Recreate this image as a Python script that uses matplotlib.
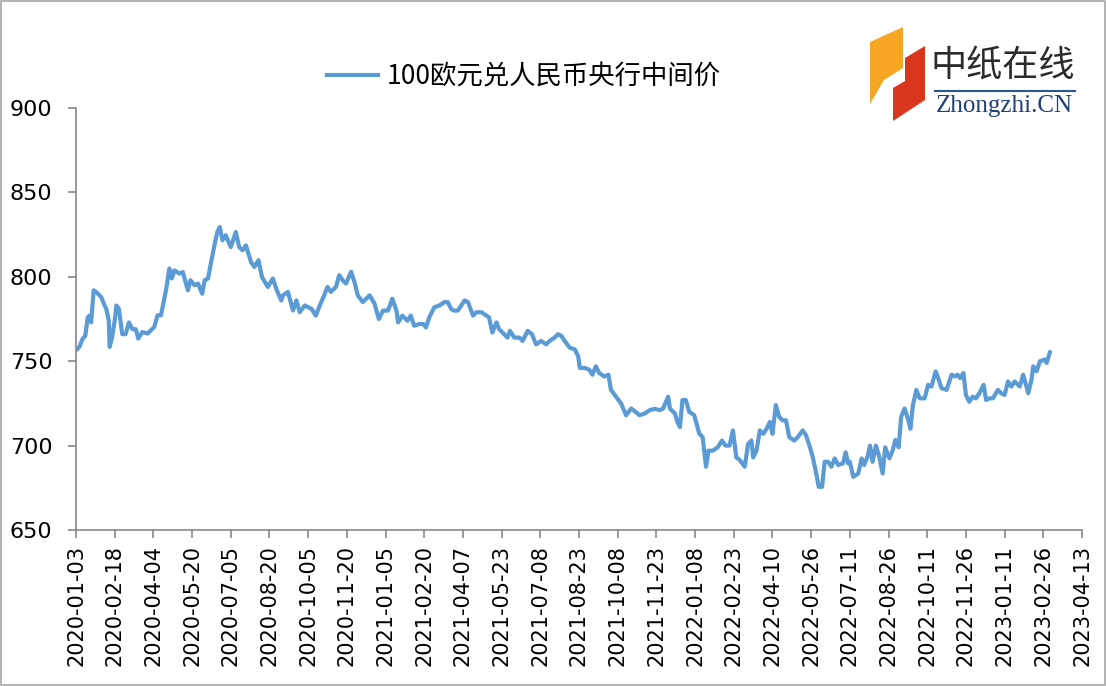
import numpy as np
import pandas as pd
import matplotlib.pyplot as plt
from matplotlib.patches import Polygon, Rectangle
from matplotlib.lines import Line2D

plt.rcParams["font.family"] = ["Noto Sans CJK SC", "DejaVu Sans"]

# --------------------------------------------------------------------------- #
# Data
# --------------------------------------------------------------------------- #
START = pd.Timestamp("2020-01-03")
END = pd.Timestamp("2023-04-13")
SERIES_NAME = "100欧元兑人民币央行中间价"

# days since 2020-01-03
day_offsets = [
    0, 4, 8, 11, 14, 16, 18, 21, 24, 30, 34, 36, 39, 40, 43, 46, 48, 51, 55, 59,
    63, 67, 71, 74, 79, 85, 89, 93, 97, 101, 107, 111, 114, 117, 123, 127, 133, 136, 141, 145,
    150, 153, 157, 161, 165, 168, 171, 174, 178, 184, 190, 194, 198, 202, 208, 212, 217, 221, 228, 234,
    238, 244, 246, 252, 258, 262, 266, 272, 280, 285, 289, 295, 299, 303, 309, 313, 317, 321, 327, 331,
    335, 341, 345, 349, 355, 360, 365, 371, 376, 381, 383, 388, 394, 398, 402, 408, 413, 416, 420, 426,
    432, 438, 442, 446, 449, 454, 462, 466, 472, 476, 482, 488, 491, 495, 500, 503, 509, 513, 516, 521,
    527, 531, 537, 542, 547, 553, 559, 563, 569, 573, 577, 581, 587, 593, 597, 599, 605, 610, 614, 618,
    622, 628, 633, 636, 642, 648, 654, 660, 665, 670, 676, 682, 688, 694, 698, 704, 706, 712, 715, 718,
    721, 725, 729, 735, 741, 745, 749, 752, 757, 763, 768, 772, 777, 781, 785, 789, 795, 799, 803, 805,
    809, 813, 817, 821, 825, 828, 832, 836, 840, 844, 848, 854, 858, 864, 868, 872, 876, 880, 883, 887,
    890, 894, 898, 902, 906, 912, 915, 918, 920, 924, 930, 934, 937, 941, 944, 947, 951, 955, 959, 962,
    967, 971, 974, 978, 981, 985, 989, 992, 995, 999, 1003, 1009, 1013, 1017, 1022, 1025, 1029, 1035, 1041, 1045,
    1048, 1051, 1055, 1058, 1062, 1066, 1070, 1074, 1079, 1082, 1086, 1090, 1096, 1100, 1104, 1108, 1112, 1116, 1122, 1126,
    1130, 1132, 1136, 1138, 1142, 1146, 1152, 1154, 1158,
]
eur_cny = [
    756.5, 758.5, 763.4, 765, 776, 777, 773, 792, 791, 788, 783, 781, 774, 758.5, 764.4, 774, 783, 781, 766, 766,
    773, 769, 769, 763.4, 767.3, 766.4, 768.3, 770.3, 777.2, 777.2, 792, 804.9, 799, 803.8, 801.9, 802.8, 792, 798, 795, 796,
    790, 798, 799, 809.8, 819.6, 826.5, 829.5, 821.6, 824.6, 817.6, 826.5, 817.6, 815.7, 818.6, 808.8, 805.8, 809.8, 800, 794, 799,
    793, 786, 789, 791, 780, 786, 779, 783, 781, 777, 782, 789, 794, 791, 794, 801, 798, 796, 803, 797,
    789, 785, 787, 789, 784, 775, 780, 780, 787, 780, 773, 777, 774, 777, 771, 772, 772, 770, 776, 782,
    783, 785, 785, 781, 780, 780, 786, 785, 777, 779, 779, 777, 776, 767, 773, 769, 766, 764, 768, 764,
    764, 762, 768, 766, 760, 762, 760, 762, 764, 766, 765, 762, 758, 757, 753, 746, 746, 745, 742, 747,
    743, 741, 742, 733, 729, 725, 718, 722, 720, 718, 719, 721, 721.8, 721, 722, 729, 722, 719, 714, 711,
    727, 727, 720, 718, 707, 705, 687.5, 697, 697, 699, 703, 700, 700, 709, 693, 691.5, 687.5, 701, 703, 693,
    697, 709, 707, 710, 714, 707, 724, 717, 715, 715, 705, 703, 705, 709, 706, 700, 693, 683.5, 675.6, 675.6,
    690.4, 690.4, 687.5, 692.4, 688.5, 689.5, 696, 689.5, 690.4, 681.5, 683.5, 692.4, 688.5, 693.4, 700, 690.4, 700, 693.4, 683.5, 699,
    692.4, 697.3, 703.3, 699, 717, 722, 716, 710, 724, 733, 728, 728, 736, 735, 744, 740, 734, 733, 742, 741,
    742, 740, 743, 730, 726, 729, 728, 731, 736, 727, 728, 728, 733, 731, 730, 738, 735, 738, 735, 742,
    735, 731, 739, 747, 744, 750, 751, 749, 755.5,
]

Y_TICKS = [650, 700, 750, 800, 850, 900]

dates = START + pd.to_timedelta(day_offsets, unit="D")
x_ticks = pd.date_range(START, END, freq="46D")

# --------------------------------------------------------------------------- #
# Plot
# --------------------------------------------------------------------------- #
W, H = 1106, 686
fig = plt.figure(figsize=(W / 100, H / 100), dpi=100)
ax = fig.add_axes([76 / W, 1 - 530 / H, (1082 - 76) / W, (530 - 108) / H])

line_color = "#5B9BD5"
axis_color = "#888888"

ax.plot(dates, eur_cny, color=line_color, linewidth=3.0,
        solid_joinstyle="round", solid_capstyle="round")

ax.set_xlim(START, END)
ax.set_ylim(650, 900)
ax.set_yticks(Y_TICKS)
ax.set_xticks(x_ticks)
ax.set_xticklabels([d.strftime("%Y-%m-%d") for d in x_ticks], rotation=90,
                   fontsize=15, family="DejaVu Sans")
ax.set_yticklabels([str(v) for v in Y_TICKS], fontsize=16, family="DejaVu Sans")

for side in ("top", "right"):
    ax.spines[side].set_visible(False)
for side in ("left", "bottom"):
    ax.spines[side].set_color(axis_color)
    ax.spines[side].set_linewidth(1.2)
ax.tick_params(axis="both", direction="out", length=6, width=1.2, color=axis_color)
ax.tick_params(axis="x", pad=5)
ax.tick_params(axis="y", pad=11)

# legend
handle = Line2D([], [], color=line_color, linewidth=3.0)
fig.legend([handle], [SERIES_NAME], loc="center", bbox_to_anchor=(0.474, 1 - 77 / H),
           frameon=False, fontsize=19, handlelength=1.9, handletextpad=0.35)

# logo (approximation of the Zhongzhi.CN mark)
def px(x, y):
    return (x / W, 1 - y / H)

orange = Polygon([px(870, 42), px(903, 27), px(903, 68), px(884, 80), px(870, 104)],
                 closed=True, transform=fig.transFigure, facecolor="#F6A623", edgecolor="none")
red = Polygon([px(905, 58), px(925, 46), px(925, 100), px(893, 121), px(893, 88), px(905, 81)],
              closed=True, transform=fig.transFigure, facecolor="#D9361E", edgecolor="none")
fig.add_artist(orange)
fig.add_artist(red)
fig.text(*px(1003, 66), "中纸在线", ha="center", va="center", fontsize=26,
         color="#2B2B2B", family=["Noto Sans CJK SC"])
fig.add_artist(Line2D([935 / W, 1075 / W], [1 - 91 / H, 1 - 91 / H],
                      transform=fig.transFigure, color="#2F5597", linewidth=1.5))
fig.text(*px(1004, 106), "Zhongzhi.CN", ha="center", va="center", fontsize=18,
         color="#1F3F7A", family=["Liberation Serif"])

# outer frame
fig.add_artist(Rectangle((0.001, 0.001), 0.998, 0.997, transform=fig.transFigure,
                         fill=False, edgecolor="#A6A6A6", linewidth=1.2))

fig.savefig("out.png", dpi=100)
